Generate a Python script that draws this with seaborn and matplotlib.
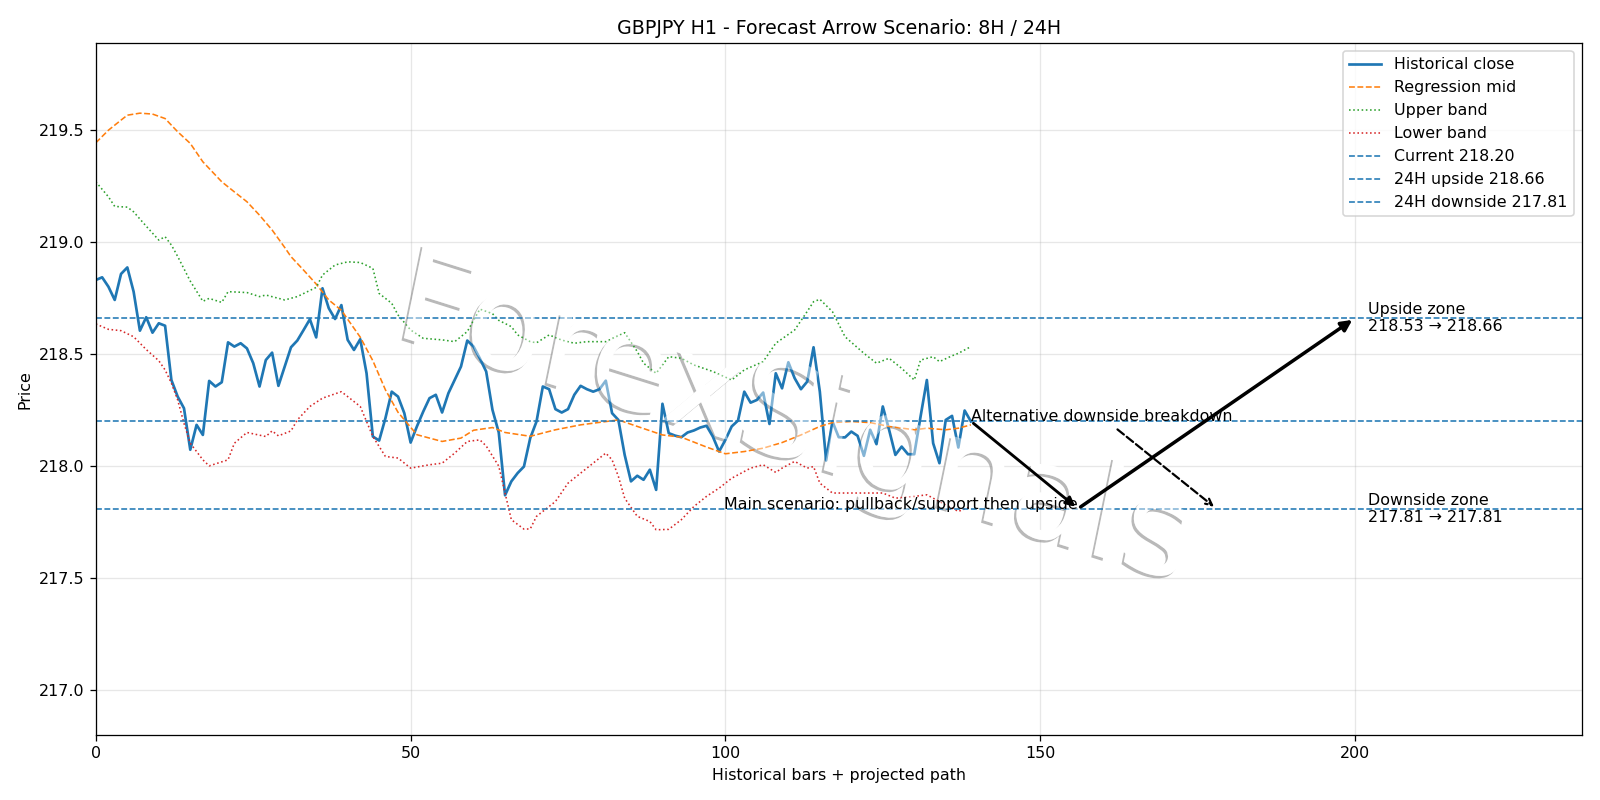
import numpy as np
import matplotlib
matplotlib.use("Agg")
import matplotlib.pyplot as plt
import matplotlib.patheffects as pe
from matplotlib.patches import PathPatch
from matplotlib.textpath import TextPath
from matplotlib.font_manager import FontProperties
from matplotlib.transforms import Affine2D
import seaborn as sns

# --- values ---
close = [
    218.830, 218.842, 218.800, 218.741, 218.857, 218.886, 218.778, 218.604, 218.664, 218.595,
    218.637, 218.626, 218.384, 218.310, 218.258, 218.073, 218.184, 218.139, 218.380, 218.355,
    218.374, 218.552, 218.533, 218.548, 218.525, 218.459, 218.355, 218.473, 218.506, 218.358,
    218.444, 218.530, 218.560, 218.607, 218.655, 218.574, 218.793, 218.704, 218.656, 218.718,
    218.563, 218.518, 218.566, 218.414, 218.132, 218.114, 218.214, 218.332, 218.310, 218.236,
    218.105, 218.177, 218.243, 218.303, 218.318, 218.239, 218.325, 218.384, 218.444, 218.560,
    218.533, 218.480, 218.422, 218.251, 218.150, 217.870, 217.932, 217.969, 217.998, 218.125,
    218.199, 218.355, 218.343, 218.254, 218.239, 218.254, 218.318, 218.358, 218.343, 218.332,
    218.343, 218.381, 218.236, 218.206, 218.050, 217.932, 217.957, 217.939, 217.984, 217.894,
    218.278, 218.147, 218.136, 218.129, 218.150, 218.159, 218.172, 218.180, 218.132, 218.065,
    218.117, 218.177, 218.203, 218.332, 218.283, 218.295, 218.328, 218.188, 218.414, 218.347,
    218.463, 218.392, 218.343, 218.377, 218.530, 218.332, 218.025, 218.199, 218.129, 218.128,
    218.154, 218.135, 218.046, 218.162, 218.098, 218.266, 218.162, 218.050, 218.087, 218.053,
    218.053, 218.221, 218.384, 218.102, 218.013, 218.206, 218.224, 218.083, 218.248, 218.199,
]

mid_x = [0, 2, 4, 5, 7, 9, 11, 13, 15, 17, 20, 22, 24, 26, 28, 30, 31, 33, 35, 37,
         39, 42, 44, 46, 48, 51, 55, 58, 60, 63, 65, 69, 73, 77, 80, 83, 86, 90, 93, 97,
         100, 103, 106, 109, 112, 115, 117, 120, 123, 126, 130, 132, 135, 137, 139]
mid_y = [219.442, 219.498, 219.543, 219.565, 219.574, 219.570, 219.550, 219.491, 219.439, 219.357,
         219.268, 219.223, 219.179, 219.119, 219.053, 218.975, 218.934, 218.874, 218.812, 218.741,
         218.695, 218.575, 218.470, 218.340, 218.240, 218.140, 218.110, 218.125, 218.160, 218.172,
         218.150, 218.133, 218.162, 218.184, 218.195, 218.206, 218.177, 218.139, 218.129, 218.085,
         218.055, 218.065, 218.080, 218.105, 218.139, 218.177, 218.194, 218.199, 218.194, 218.177,
         218.162, 218.169, 218.162, 218.169, 218.184]

upper_x = [0, 2, 3, 5, 6, 8, 10, 11, 12, 13, 15, 17, 18, 20, 21, 24, 26, 27, 30, 32,
           35, 36, 38, 40, 42, 44, 45, 47, 48, 50, 52, 55, 57, 59, 61, 63, 64, 66, 67, 69,
           70, 72, 74, 76, 78, 81, 84, 86, 87, 89, 91, 93, 95, 98, 101, 103, 106, 108, 111, 113,
           114, 115, 117, 119, 122, 124, 126, 128, 130, 131, 133, 134, 136, 137, 139]
upper_y = [219.268, 219.201, 219.158, 219.155, 219.134, 219.070, 219.008, 219.023, 218.986, 218.935,
           218.825, 218.735, 218.748, 218.730, 218.778, 218.774, 218.756, 218.763, 218.741, 218.756,
           218.797, 218.852, 218.897, 218.911, 218.908, 218.882, 218.770, 218.726, 218.674, 218.607,
           218.570, 218.563, 218.555, 218.600, 218.700, 218.680, 218.650, 218.622, 218.585, 218.555,
           218.550, 218.585, 218.562, 218.548, 218.555, 218.555, 218.595, 218.511, 218.459, 218.414,
           218.488, 218.481, 218.451, 218.422, 218.384, 218.429, 218.466, 218.548, 218.607, 218.690,
           218.733, 218.744, 218.689, 218.577, 218.503, 218.459, 218.481, 218.436, 218.384, 218.473,
           218.488, 218.466, 218.492, 218.503, 218.533]

lower_x = [0, 2, 4, 6, 8, 10, 11, 12, 13, 14, 15, 17, 18, 21, 22, 24, 27, 28, 29, 31,
           32, 34, 36, 39, 41, 42, 44, 46, 48, 50, 53, 55, 57, 59, 61, 62, 64, 65, 66, 68,
           69, 70, 73, 75, 78, 81, 82, 83, 84, 86, 88, 89, 91, 93, 95, 97, 99, 101, 104, 106,
           108, 109, 111, 113, 114, 115, 117, 120, 122, 125, 127, 130, 132, 134, 137, 139]
lower_y = [218.634, 218.610, 218.604, 218.577, 218.520, 218.470, 218.429, 218.370, 218.295, 218.191,
           218.102, 218.028, 218.001, 218.028, 218.102, 218.150, 218.132, 218.157, 218.135, 218.157,
           218.206, 218.266, 218.303, 218.332, 218.288, 218.266, 218.132, 218.043, 218.036, 217.991,
           218.006, 218.013, 218.058, 218.110, 218.117, 218.090, 218.000, 217.880, 217.761, 217.719,
           217.720, 217.776, 217.842, 217.924, 217.991, 218.058, 218.028, 217.954, 217.857, 217.776,
           217.753, 217.716, 217.718, 217.761, 217.820, 217.865, 217.902, 217.946, 217.991, 218.006,
           217.972, 217.991, 218.021, 217.991, 217.998, 217.924, 217.880, 217.880, 217.880, 217.880,
           217.857, 217.865, 217.872, 217.842, 217.798, 217.820]

current = 218.20
up_24h = 218.66
down_24h = 217.81
up_zone = (218.53, 218.66)
down_zone = (217.81, 217.81)

# projected scenario path: bar index -> price
main_x = [139, 156, 200]
main_y = [current, down_24h, up_24h]
alt_end_x = 178
zone_x = 202

title = "GBPJPY H1 - Forecast Arrow Scenario: 8H / 24H"
watermark = "ForexSignals"

blue = "#1f77b4"

fig = plt.figure(figsize=(14, 7), dpi=1600 / 14)
ax = fig.add_axes([0.0599, 0.081, 0.9286, 0.865])

bars = np.arange(len(close))
sns.lineplot(x=bars, y=close, ax=ax, color=blue, linewidth=1.7, label="Historical close")
sns.lineplot(x=mid_x, y=mid_y, ax=ax, color="#ff7f0e", linestyle="--", linewidth=1.0,
             label="Regression mid")
sns.lineplot(x=upper_x, y=upper_y, ax=ax, color="#2ca02c", linestyle=":", linewidth=1.0,
             label="Upper band")
sns.lineplot(x=lower_x, y=lower_y, ax=ax, color="#d62728", linestyle=":", linewidth=1.0,
             label="Lower band")

ax.axhline(current, color=blue, linestyle="--", linewidth=1.0, label=f"Current {current:.2f}")
ax.axhline(up_24h, color=blue, linestyle="--", linewidth=1.0, label=f"24H upside {up_24h:.2f}")
ax.axhline(down_24h, color=blue, linestyle="--", linewidth=1.0,
           label=f"24H downside {down_24h:.2f}")

# main scenario arrows
ax.annotate("", xy=(main_x[1], main_y[1]), xytext=(main_x[0], main_y[0]),
            arrowprops=dict(arrowstyle="-|>", color="black", lw=1.8, mutation_scale=12))
ax.annotate("", xy=(main_x[2], main_y[2]), xytext=(main_x[1], main_y[1]),
            arrowprops=dict(arrowstyle="-|>", color="black", lw=2.2, mutation_scale=14))
ax.text(main_x[1], main_y[1], "Main scenario: pullback/support then upside",
        ha="right", va="baseline", fontsize=10)

# alternative scenario
ax.annotate("Alternative downside breakdown", xy=(alt_end_x, down_24h),
            xytext=(main_x[0], current), fontsize=10,
            arrowprops=dict(arrowstyle="->", color="black", lw=1.4, linestyle="--"))

ax.text(zone_x, up_24h, f"Upside zone\n{up_zone[0]:.2f} \u2192 {up_zone[1]:.2f}",
        va="center", fontsize=10)
ax.text(zone_x, down_24h, f"Downside zone\n{down_zone[0]:.2f} \u2192 {down_zone[1]:.2f}",
        va="center", fontsize=10)

ax.set_xlim(0, 236)
ax.set_ylim(216.80, 219.886)
ax.grid(True, alpha=0.3)
ax.set_title(title, fontsize=12)
ax.set_xlabel("Historical bars + projected path")
ax.set_ylabel("Price")
ax.legend(loc="upper right")

# watermark: white letters with a soft grey shadow, slanted across the axes
tp = TextPath((0, 0), watermark, size=1, prop=FontProperties(family="DejaVu Sans"))
ext = tp.get_extents()
em = 131
ox, oy = 797, 376  # figure pixels
mat = np.array([[0.954 * em, 0.201 * em, 0.0],
                [-0.300 * em, 0.980 * em, 0.0],
                [0.0, 0.0, 1.0]])
wm_tr = (Affine2D().translate(-(ext.x0 + ext.x1) / 2, -(ext.y0 + ext.y1) / 2)
         + Affine2D(mat) + Affine2D().translate(ox, oy))
base = PathPatch(tp, transform=wm_tr, facecolor="white", edgecolor="none", zorder=1.6,
                 path_effects=[pe.SimplePatchShadow(offset=(-1.5, -1.5), shadow_rgbFace="#808080",
                                                    alpha=0.55), pe.Normal()])
veil = PathPatch(tp, transform=wm_tr, facecolor="white", edgecolor="none", alpha=0.45,
                 zorder=2.5)
ax.add_artist(base)
ax.add_artist(veil)

fig.savefig("out.png", dpi=1600 / 14)
